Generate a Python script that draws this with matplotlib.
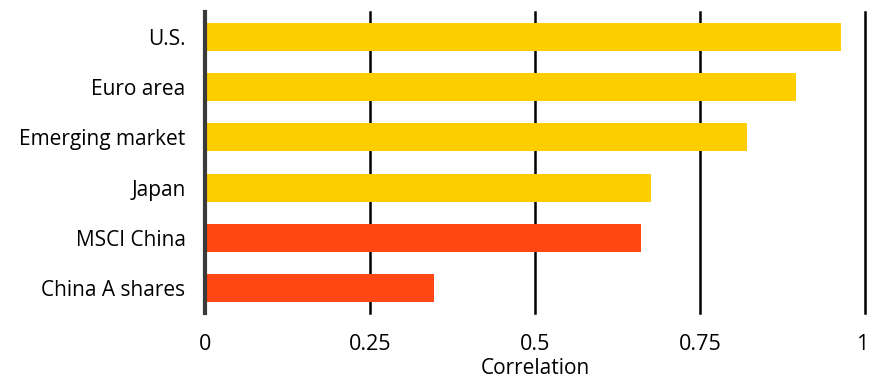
import numpy as np
import matplotlib.pyplot as plt
import matplotlib.transforms as mtransforms

# data (top to bottom)
labels = ['U.S.', 'Euro area', 'Emerging market', 'Japan', 'MSCI China', 'China A shares']
corr = [0.96, 0.892, 0.818, 0.672, 0.658, 0.344]
colors = ['#FFCE00', '#FFCE00', '#FFCE00', '#FFCE00', '#FF4713', '#FF4713']
xticks = [0, 0.25, 0.5, 0.75, 1]
xticklabels = ['0', '0.25', '0.5', '0.75', '1']

plt.rcParams['font.family'] = ['Open Sans', 'DejaVu Sans']

fig = plt.figure(figsize=(8.69, 3.81), dpi=100)
ax = fig.add_axes([205/869, 1 - 313/381, 660/869, 301/381])

y = np.arange(len(labels))
ax.barh(y, corr, height=0.56, color=colors, left=0.003, zorder=3)

for xv in xticks[1:]:
    ax.axvline(xv, color='black', lw=1.8, zorder=1, clip_on=False)

ax.set_xlim(0, 1)
ax.set_ylim(len(labels) - 0.5, -0.5)
ax.set_yticks(y)
ax.set_yticklabels(labels, fontsize=15)
ax.set_xticks(xticks)
ax.set_xticklabels(xticklabels, fontsize=15.5)
ax.tick_params(length=0, pad=14, axis='y')
ax.tick_params(length=0, pad=15, axis='x')
ax.set_xlabel('Correlation', fontsize=15, labelpad=2)

# keep the last tick label inside the canvas
last = ax.get_xticklabels()[-1]
last.set_transform(last.get_transform() + mtransforms.ScaledTranslation(-3/100, 0, fig.dpi_scale_trans))

for s in ['top', 'right', 'bottom']:
    ax.spines[s].set_visible(False)
ax.spines['left'].set_color('#3a3a3a')
ax.spines['left'].set_linewidth(3)
ax.spines['left'].set_zorder(4)

plt.savefig('out.png', dpi=100)
